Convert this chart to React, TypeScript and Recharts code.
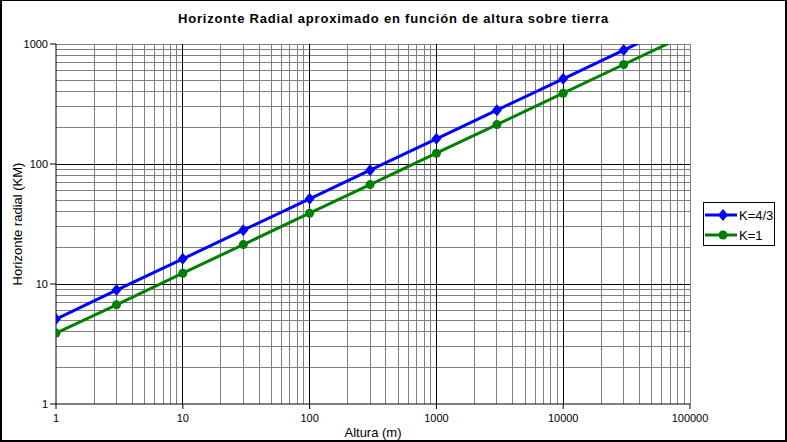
import { LineChart, Line, XAxis, YAxis, ReferenceLine, Label } from "recharts";

const heights = [1, 3, 10, 30, 100, 300, 1000, 3000, 10000, 30000, 100000];
const k43 = [5.1, 8.9, 16.2, 28.1, 51.3, 88.9, 162, 281, 513, 890, 1620];
const k1 = [3.9, 6.7, 12.3, 21.3, 38.9, 67.4, 123, 213, 389, 675, 1230];

const xTicks = [1, 10, 100, 1000, 10000, 100000];
const yTicks = [1, 10, 100, 1000];

const data = heights.map((h, i) => ({ h, k43: k43[i], k1: k1[i] }));

// minor grid lines: 2..9 in each decade, plus the far edges
const minor = (decades: number[]) => {
  const out: number[] = [];
  decades.slice(0, -1).forEach((d) => {
    for (let m = 2; m <= 9; m++) out.push(d * m);
  });
  return out;
};
const xMinor = [...minor(xTicks), 100000];
const yMinor = [...minor(yTicks), 1000];
const xMajor = xTicks.slice(1, -1);
const yMajor = yTicks.slice(1, -1);

const FONT = "Arial, 'Liberation Sans', sans-serif";
const BLUE = "#0000ff";
const GREEN = "#008000";

const Diamond = (props: any) => {
  const { cx, cy, payload } = props;
  if (payload.k43 > 1000) return <g key={props.index} />;
  return <path key={props.index} d={`M${cx},${cy - 6}L${cx + 5},${cy}L${cx},${cy + 6}L${cx - 5},${cy}Z`} fill={BLUE} />;
};

const Circle = (props: any) => {
  const { cx, cy, payload } = props;
  if (payload.k1 > 1000) return <g key={props.index} />;
  return <circle key={props.index} cx={cx} cy={cy} r={4.5} fill={GREEN} />;
};

const legendItems = [
  { name: "K=4/3", color: BLUE, mark: "d" },
  { name: "K=1", color: GREEN, mark: "c" },
];

const LegendBox = () => (
  <div style={{ position: "absolute", left: 701, top: 201, border: "1px solid #000", width: 70, height: 42, background: "#fff", fontFamily: FONT, fontSize: 13 }}>
    {legendItems.map((it, i) => (
      <div key={it.name} style={{ display: "flex", alignItems: "center", height: 20, marginTop: i === 0 ? 2 : 0 }}>
        <svg width={34} height={14} style={{ marginLeft: 1 }}>
          <line x1={0} y1={7} x2={32} y2={7} stroke={it.color} strokeWidth={3} />
          {it.mark === "d" ? (
            <path d="M18,1L23,7L18,13L13,7Z" fill={it.color} />
          ) : (
            <circle cx={18} cy={7} r={4.5} fill={it.color} />
          )}
        </svg>
        <span>{it.name}</span>
      </div>
    ))}
  </div>
);

export default function App() {
  return (
    <div style={{ position: "absolute", left: 0, top: 0, width: 787, height: 442, background: "#fff", boxSizing: "border-box", borderStyle: "solid", borderColor: "#000", borderWidth: "1px 2px 2px 2px", overflow: "hidden" }}>
      <div style={{ position: "absolute", left: 0, top: 10, width: 783, textAlign: "center", fontFamily: FONT, fontWeight: "bold", fontSize: 13, letterSpacing: 0.8 }}>
        Horizonte Radial aproximado en función de altura sobre tierra
      </div>
      <div style={{ position: "absolute", left: -2, top: -1 }}>
        <LineChart width={787} height={442} data={data} margin={{ top: 44, right: 97, left: 0, bottom: 0 }}>
          <XAxis
            dataKey="h"
            type="number"
            scale="log"
            domain={[1, 100000]}
            ticks={xTicks}
            allowDataOverflow
            height={38}
            stroke="#000"
            tickSize={5}
            tickMargin={5}
            tick={{ fill: "#000", fontSize: 11, fontFamily: FONT }}
          >
            <Label value="Altura (m)" position="insideBottom" offset={5} style={{ fill: "#000", fontSize: 13, fontFamily: FONT }} />
          </XAxis>
          <YAxis
            type="number"
            scale="log"
            domain={[1, 1000]}
            ticks={yTicks}
            allowDataOverflow
            width={56}
            stroke="#000"
            tickSize={6}
            tickMargin={2}
            tick={{ fill: "#000", fontSize: 11, fontFamily: FONT }}
          >
            <Label value="Horizonte radial (KM)" angle={-90} position="insideLeft" offset={17} style={{ fill: "#000", fontSize: 13, fontFamily: FONT, textAnchor: "middle" }} />
          </YAxis>
          {xMinor.map((v) => (
            <ReferenceLine key={`xm${v}`} x={v} stroke="#808080" strokeWidth={1} shapeRendering="crispEdges" />
          ))}
          {yMinor.map((v) => (
            <ReferenceLine key={`ym${v}`} y={v} stroke="#808080" strokeWidth={1} shapeRendering="crispEdges" />
          ))}
          {xMajor.map((v) => (
            <ReferenceLine key={`xM${v}`} x={v} stroke="#000" strokeWidth={1} shapeRendering="crispEdges" />
          ))}
          {yMajor.map((v) => (
            <ReferenceLine key={`yM${v}`} y={v} stroke="#000" strokeWidth={1} shapeRendering="crispEdges" />
          ))}
          <Line dataKey="k43" name="K=4/3" stroke={BLUE} strokeWidth={3} dot={Diamond} activeDot={false} isAnimationActive={false} />
          <Line dataKey="k1" name="K=1" stroke={GREEN} strokeWidth={3} dot={Circle} activeDot={false} isAnimationActive={false} />
        </LineChart>
      </div>
      <LegendBox />
    </div>
  );
}
